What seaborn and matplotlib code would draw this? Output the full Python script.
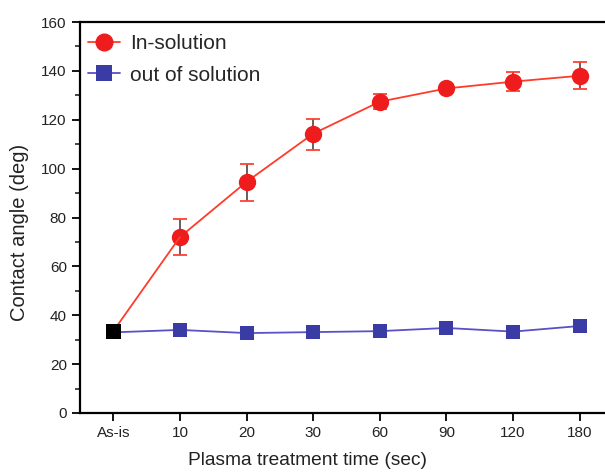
import numpy as np
import pandas as pd
import matplotlib
matplotlib.use("Agg")
import matplotlib.pyplot as plt
import seaborn as sns
from matplotlib.ticker import MultipleLocator
from matplotlib.lines import Line2D

categories = ["As-is", "10", "20", "30", "60", "90", "120", "180"]
in_solution = [33.5, 72.0, 94.6, 114.3, 127.4, 132.8, 135.6, 138.0]
in_err_low = [0.0, 7.3, 7.7, 6.7, 3.0, 0.0, 3.9, 5.4]
in_err_high = [0.0, 7.4, 7.2, 6.2, 3.0, 0.0, 3.8, 5.5]
out_solution = [33.0, 34.0, 32.7, 33.1, 33.5, 34.8, 33.3, 35.6]

sns.set_style("ticks")
plt.rcParams['font.family'] = ['Arial', 'Liberation Sans', 'DejaVu Sans']

fig = plt.figure(figsize=(6.05, 4.75), dpi=100)
ax = fig.add_axes([80/605, 62/475, 525/605, 391/475])

pos = np.arange(len(categories))
df_in = pd.DataFrame({"pos": pos, "val": in_solution})
df_out = pd.DataFrame({"pos": pos, "val": out_solution})

red = "#ee1c1c"
blue = "#3b3ba6"
red_line = "#ff3b2a"
blue_line = "#5a50c8"

# error bars
eb = ax.errorbar(pos[1:], in_solution[1:], yerr=[in_err_low[1:], in_err_high[1:]],
                 fmt="none", ecolor="#555555", elinewidth=1.3, capsize=5, capthick=1.3, zorder=2)
for cl in eb[1]:
    cl.set_color("#ff4030")
    cl.set_markeredgecolor("#ff4030")

sns.lineplot(data=df_in.iloc[1:], x="pos", y="val", ax=ax, color=red_line, lw=1.3,
             marker="o", markersize=12.5, markeredgewidth=0, markerfacecolor=red, zorder=3)
sns.lineplot(data=df_in.iloc[:2], x="pos", y="val", ax=ax, color=red_line, lw=1.3, zorder=3)
sns.lineplot(data=df_out, x="pos", y="val", ax=ax, color=blue_line, lw=1.3,
             marker="s", markersize=10, markeredgewidth=0, markerfacecolor=blue, zorder=3)
sns.scatterplot(x=pos[:1], y=[in_solution[0]], ax=ax, marker="s", s=120, color="black",
                edgecolor="none", zorder=5)

ax.set_xlim(-0.5, 7.38)
ax.set_ylim(0, 160)
ax.set_xticks(pos)
ax.set_xticklabels(categories)
ax.yaxis.set_major_locator(MultipleLocator(20))
ax.yaxis.set_minor_locator(MultipleLocator(10))
ax.tick_params(axis="both", which="major", direction="out", length=6, width=1.3,
               labelsize=11, colors="black", labelcolor="#222222")
ax.tick_params(axis="y", which="minor", direction="out", length=3.5, width=1.2)
for s in ["left", "bottom", "top"]:
    ax.spines[s].set_linewidth(1.6)
    ax.spines[s].set_color("black")
ax.spines["right"].set_visible(False)

ax.set_xlabel("Plasma treatment time (sec)", fontsize=13.8, color="#222222")
ax.set_ylabel("Contact angle (deg)", fontsize=14.5, color="#222222")
ax.xaxis.set_label_coords(0.434, -0.1)
ax.yaxis.set_label_coords(-0.097, 0.463)

handles = [Line2D([], [], color=red_line, lw=1.3, marker="o", markersize=13,
                  markerfacecolor=red, markeredgewidth=0),
           Line2D([], [], color=blue_line, lw=1.3, marker="s", markersize=11,
                  markerfacecolor=blue, markeredgewidth=0)]
ax.legend(handles, ["In-solution", "out of solution"], loc="upper left", frameon=False,
          fontsize=15, handlelength=1.5, handletextpad=0.5, borderaxespad=0.0,
          labelspacing=0.6, bbox_to_anchor=(0.0, 0.99))

fig.savefig("out.png", dpi=100)
